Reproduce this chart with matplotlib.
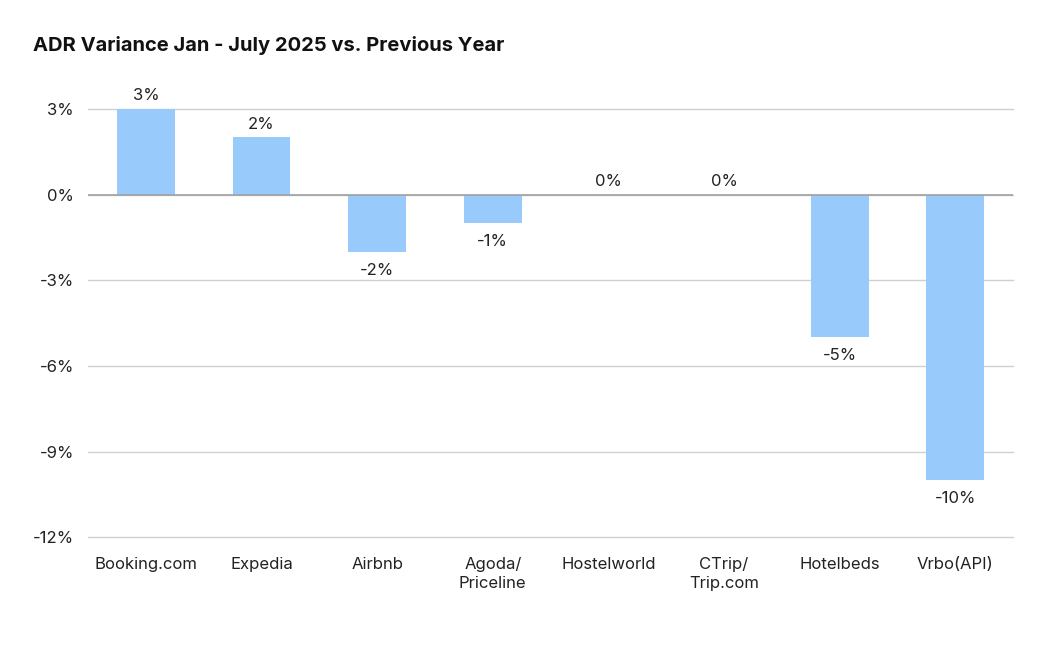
import matplotlib
matplotlib.use('Agg')
import matplotlib.pyplot as plt

# data
channels = ['Booking.com', 'Expedia', 'Airbnb', 'Agoda/\nPriceline', 'Hostelworld',
            'CTrip/\nTrip.com', 'Hotelbeds', 'Vrbo(API)']
variance = [3, 2, -2, -1, 0, 0, -5, -10]
yticks = [3, 0, -3, -6, -9, -12]

plt.rcParams['font.family'] = ['Inter', 'DejaVu Sans']

fig = plt.figure(figsize=(10.55, 6.56), dpi=100)
ax = fig.add_axes([0.0834, 0.181, 0.877, 0.653])

x = range(len(channels))
ax.bar(x, variance, width=0.5, color='#99cafc', zorder=2)

for i, v in enumerate(variance):
    if v >= 0:
        ax.annotate('%d%%' % v, (i, v), xytext=(0, 4), textcoords='offset points',
                    ha='center', va='bottom', fontsize=12, color='#222222')
    else:
        ax.annotate('%d%%' % v, (i, v), xytext=(0, -8), textcoords='offset points',
                    ha='center', va='top', fontsize=12, color='#222222')

ax.set_xlim(-0.5, len(channels) - 0.5)
ax.set_ylim(-12, 3)
ax.set_yticks(yticks)
ax.set_yticklabels(['%d%%' % t for t in yticks])
ax.set_xticks(list(x))
ax.set_xticklabels(channels, linespacing=1.35)
ax.tick_params(axis='both', length=0, labelsize=12, colors='#222222')
ax.tick_params(axis='y', pad=10)
ax.tick_params(axis='x', pad=14)

ax.grid(axis='y', color='#d0d0d0', linewidth=1, zorder=0)
for gl in ax.get_ygridlines():
    gl.set_clip_on(False)
ax.axhline(0, color='#a0a0a0', linewidth=1.2, zorder=3)
for s in ax.spines.values():
    s.set_visible(False)

fig.text(0.031, 0.931, 'ADR Variance Jan - July 2025 vs. Previous Year',
         fontsize=14.5, fontweight='bold', color='#111111', va='center')

fig.savefig('out.png', dpi=100)
